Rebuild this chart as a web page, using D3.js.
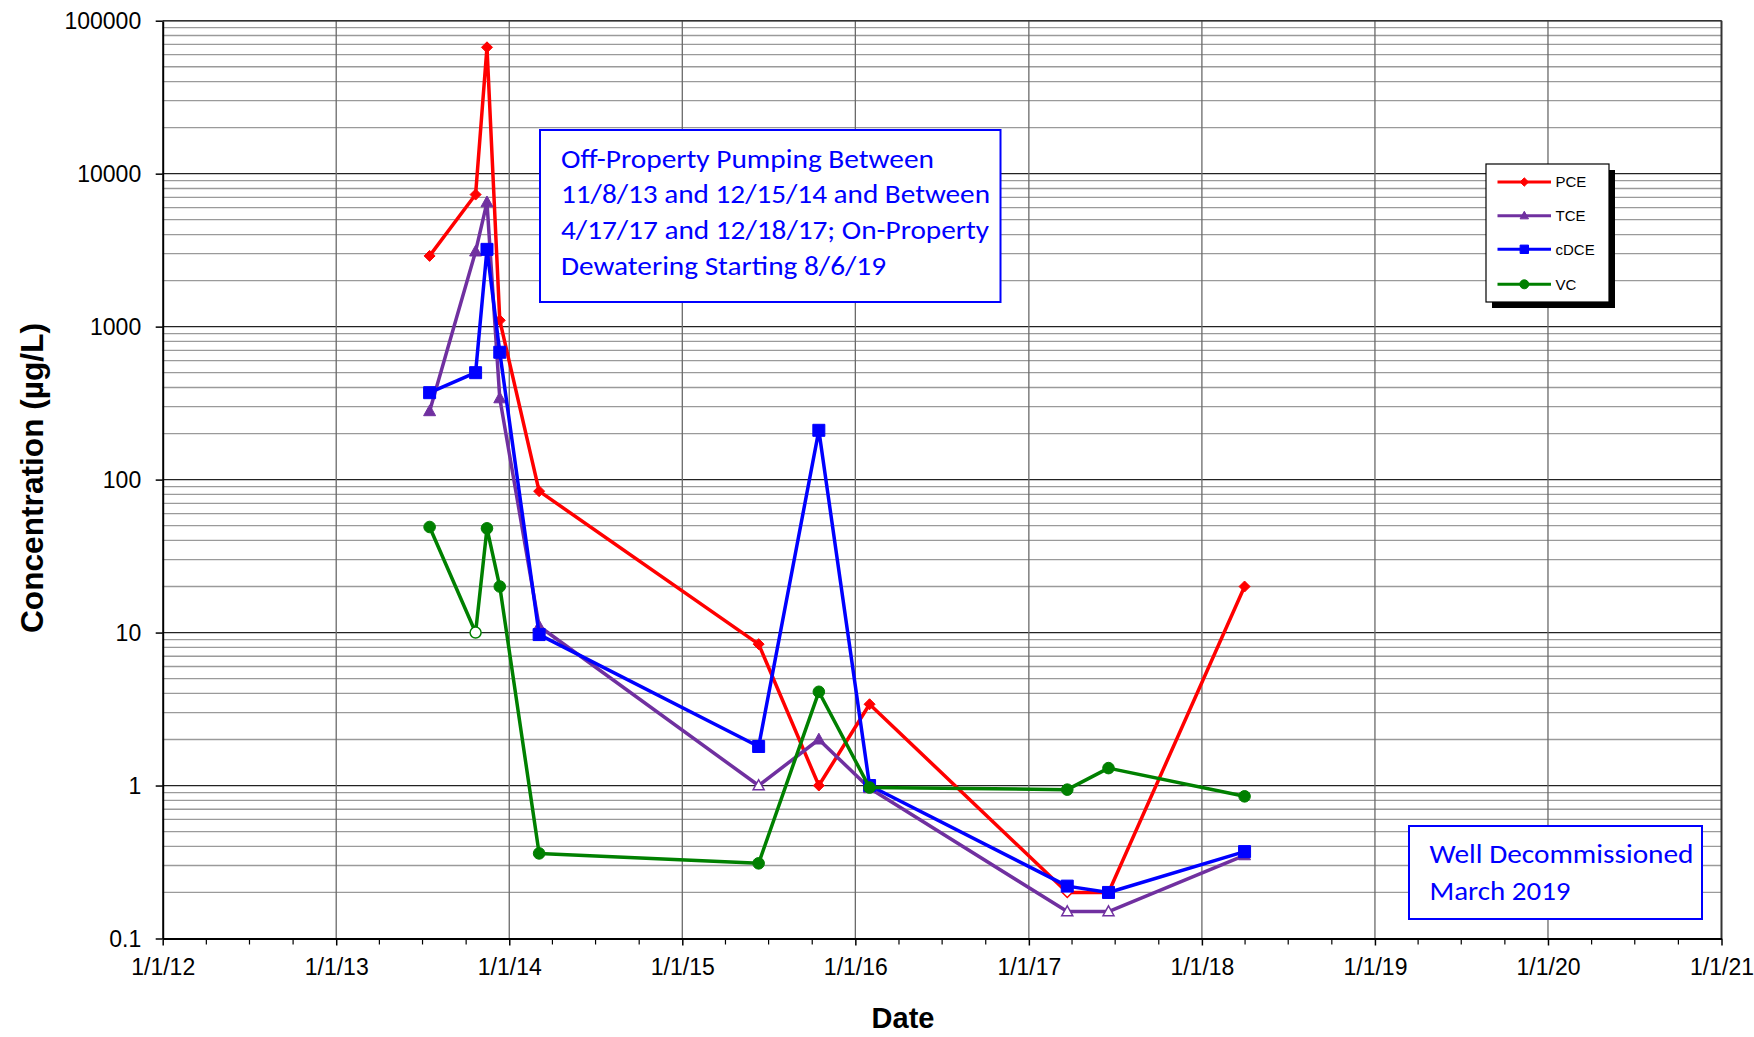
<!DOCTYPE html>
<html>
<head>
<meta charset="utf-8">
<script src="https://cdn.jsdelivr.net/npm/d3@7"></script>
<style>
  html, body { margin: 0; padding: 0; background: #fff; }
  svg { display: block; }
  text { font-family: "Liberation Sans", Arial, sans-serif; }
</style>
</head>
<body>
<svg id="chart" width="1754" height="1037"></svg>
<script>
// ---------------- DATA ----------------
const sampleDates = ["2013-07-17", "2013-10-22", "2013-11-15", "2013-12-12", "2014-03-05",
                     "2015-06-11", "2015-10-16", "2016-01-31", "2017-03-23", "2017-06-18", "2018-04-01"];
const pceValues  = [2900, 7300, 67000, 1100, 84, 8.4, 1.0, 3.4, 0.2, 0.2, 20];
const tceValues  = [280, 3100, 6500, 340, 11, 1.0, 2.0, 0.96, 0.15, 0.15, 0.35];
const cdceValues = [370, 500, 3200, 680, 9.7, 1.8, 210, 1.0, 0.22, 0.2, 0.37];
const vcValues   = [49, 10, 48, 20, 0.36, 0.31, 4.1, 0.97, 0.94, 1.3, 0.85];
// non-detect flags (hollow markers)
const pceNonDetect  = [0,0,0,0,0,0,0,0,1,1,0];
const tceNonDetect  = [0,0,0,0,0,1,0,0,1,1,0];
const cdceNonDetect = [0,0,0,0,0,0,0,0,0,0,0];
const vcNonDetect   = [0,1,0,0,0,0,0,0,0,0,0];

const seriesNames  = ["PCE", "TCE", "cDCE", "VC"];
const seriesColors = ["#FF0000", "#7030A0", "#0000FF", "#008000"];
const seriesShapes = ["diamond", "triangle", "square", "circle"];

const yTickValues = [0.1, 1, 10, 100, 1000, 10000, 100000];
const yTickLabels = ["0.1", "1", "10", "100", "1000", "10000", "100000"];
const xTickYears  = [2012, 2013, 2014, 2015, 2016, 2017, 2018, 2019, 2020, 2021];
const xTickLabels = ["1/1/12", "1/1/13", "1/1/14", "1/1/15", "1/1/16", "1/1/17", "1/1/18", "1/1/19", "1/1/20", "1/1/21"];

const note1Lines = ["Off-Property Pumping Between", "11/8/13 and 12/15/14 and Between",
                    "4/17/17 and 12/18/17; On-Property", "Dewatering Starting 8/6/19"];
const note2Lines = ["Well Decommissioned", "March 2019"];

// ---------------- LAYOUT ----------------
const X0 = 162.7, X1 = 1721.5, Y0 = 20.7, Y1 = 938.5;
const svg = d3.select("#chart");
const parse = d3.timeParse("%Y-%m-%d");
const dates = sampleDates.map(parse);

const x = d3.scaleTime().domain([new Date(2012, 0, 1), new Date(2021, 0, 1)]).range([X0, X1]);
const y = d3.scaleLog().domain([0.1, 100000]).range([Y1, Y0]);

// ---------------- GRID ----------------
const grid = svg.append("g");
const minorVals = [];
for (let d = 0.1; d < 100000; d *= 10) for (let k = 2; k <= 9; k++) minorVals.push(+(d * k).toPrecision(3));
grid.selectAll("line.minor").data(minorVals).enter().append("line")
  .attr("x1", X0).attr("x2", X1)
  .attr("y1", d => y(d)).attr("y2", d => y(d))
  .attr("stroke", "#9a9a9a").attr("stroke-width", 1.3);
grid.selectAll("line.major").data(yTickValues.slice(1)).enter().append("line")
  .attr("x1", X0).attr("x2", X1)
  .attr("y1", d => y(d)).attr("y2", d => y(d))
  .attr("stroke", "#222").attr("stroke-width", 1.3);
grid.selectAll("line.vert").data(xTickYears.slice(1)).enter().append("line")
  .attr("x1", d => x(new Date(d, 0, 1))).attr("x2", d => x(new Date(d, 0, 1)))
  .attr("y1", Y0).attr("y2", Y1)
  .attr("stroke", d => d === 2021 ? "#333" : "#6a6a6a").attr("stroke-width", d => d === 2021 ? 2 : 1.3);

// ---------------- AXES ----------------
const quarters = [];
for (let yr = 2012; yr < 2021; yr++) for (let m = 3; m < 12; m += 3) quarters.push(new Date(yr, m, 1));
const xMinor = svg.append("g").attr("transform", `translate(0,${Y1})`)
  .call(d3.axisBottom(x).tickValues(quarters).tickSize(6).tickFormat(""));
xMinor.select(".domain").remove();
xMinor.selectAll("line").attr("stroke", "#000").attr("stroke-width", 1.2);

const xMajor = svg.append("g").attr("transform", `translate(0,${Y1})`)
  .call(d3.axisBottom(x).tickValues(xTickYears.map(v => new Date(v, 0, 1)))
    .tickSize(7).tickSizeOuter(0).tickFormat((d, i) => xTickLabels[i]));
xMajor.select(".domain").attr("stroke", "#000").attr("stroke-width", 2);
xMajor.selectAll(".tick line").attr("stroke", "#000").attr("stroke-width", 1.5);
xMajor.selectAll("text").attr("y", 36.5).attr("dy", 0)
  .style("font-size", "23px").attr("fill", "#000")
  .style("font-family", "'Liberation Sans', Arial, sans-serif");

const yAxis = svg.append("g").attr("transform", `translate(${X0},0)`)
  .call(d3.axisLeft(y).tickValues(yTickValues).tickSize(7).tickSizeOuter(0)
    .tickFormat((d, i) => yTickLabels[i]));
yAxis.select(".domain").attr("stroke", "#000").attr("stroke-width", 2);
yAxis.selectAll(".tick line").attr("stroke", "#000").attr("stroke-width", 1.5);
yAxis.selectAll("text").attr("x", -21.5).attr("dy", "0.35em")
  .style("font-size", "23px").attr("fill", "#000")
  .style("font-family", "'Liberation Sans', Arial, sans-serif");

// top border
svg.append("line").attr("x1", X0).attr("x2", X1).attr("y1", Y0).attr("y2", Y0)
  .attr("stroke", "#333").attr("stroke-width", 1.5);

// titles
svg.append("text").attr("transform", "translate(43,478) rotate(-90)")
  .attr("text-anchor", "middle").style("font-size", "32px").style("font-weight", "bold")
  .attr("textLength", 310).attr("lengthAdjust", "spacingAndGlyphs")
  .text("Concentration (µg/L)");
svg.append("text").attr("x", 903).attr("y", 1028).attr("text-anchor", "middle")
  .style("font-size", "29px").style("font-weight", "bold").text("Date");

// ---------------- SERIES ----------------
const allValues = [pceValues, tceValues, cdceValues, vcValues];
const allND = [pceNonDetect, tceNonDetect, cdceNonDetect, vcNonDetect];

function markerPath(shape, size) {
  const s = size;
  if (shape === "diamond") return `M0,${-s}L${s},0L0,${s}L${-s},0Z`;
  if (shape === "triangle") return `M0,${-s * 1.05}L${s},${s * 0.75}L${-s},${s * 0.75}Z`;
  if (shape === "square") return `M${-s},${-s}H${s}V${s}H${-s}Z`;
  return null;
}
function drawMarker(g, shape, color, cx, cy, size, hollow) {
  const fill = hollow ? "#fff" : color;
  if (shape === "circle") {
    g.append("circle").attr("cx", cx).attr("cy", cy).attr("r", size)
      .attr("fill", fill).attr("stroke", color).attr("stroke-width", hollow ? 1.5 : 1);
  } else {
    g.append("path").attr("transform", `translate(${cx},${cy})`)
      .attr("d", markerPath(shape, size))
      .attr("fill", fill).attr("stroke", color).attr("stroke-width", hollow ? 1.5 : 1);
  }
}
const markerSizes = { diamond: 5.5, triangle: 6, square: 6, circle: 5.8 };
const hollowSizes = { diamond: 5, triangle: 5.5, square: 5.5, circle: 5.5 };

const line = d3.line().x(d => x(d.date)).y(d => y(d.v));
allValues.forEach((vals, si) => {
  const g = svg.append("g");
  const pts = vals.map((v, i) => ({ date: dates[i], v, nd: allND[si][i] }));
  g.append("path").datum(pts).attr("d", line)
    .attr("fill", "none").attr("stroke", seriesColors[si]).attr("stroke-width", 3.5)
    .attr("stroke-linejoin", "round");
  pts.forEach(p => {
    drawMarker(g, seriesShapes[si], seriesColors[si], x(p.date), y(p.v),
      p.nd ? hollowSizes[seriesShapes[si]] : markerSizes[seriesShapes[si]], !!p.nd);
  });
});

// ---------------- ANNOTATIONS ----------------
const note1 = svg.append("g");
note1.append("rect").attr("x", 540).attr("y", 130).attr("width", 460.5).attr("height", 172)
  .attr("fill", "#fff").attr("stroke", "#0000FF").attr("stroke-width", 2);
const note1Widths = [373, 429, 428, 325];
const note1Base = [167.7, 202.7, 239, 275];
note1Lines.forEach((t, i) => {
  note1.append("text").attr("x", 561).attr("y", note1Base[i])
    .style("font-family", "Carlito, Lato, 'Open Sans', sans-serif").style("font-size", "26.5px")
    .attr("fill", "#0000FF").attr("textLength", note1Widths[i]).attr("lengthAdjust", "spacingAndGlyphs")
    .text(t);
});

const note2 = svg.append("g");
note2.append("rect").attr("x", 1409).attr("y", 826).attr("width", 293).attr("height", 93)
  .attr("fill", "#fff").attr("stroke", "#0000FF").attr("stroke-width", 2);
const note2Widths = [264, 141];
const note2Base = [863.3, 900];
note2Lines.forEach((t, i) => {
  note2.append("text").attr("x", 1429.5).attr("y", note2Base[i])
    .style("font-family", "Carlito, Lato, 'Open Sans', sans-serif").style("font-size", "26.5px")
    .attr("fill", "#0000FF").attr("textLength", note2Widths[i]).attr("lengthAdjust", "spacingAndGlyphs")
    .text(t);
});

// ---------------- LEGEND ----------------
const legend = svg.append("g");
legend.append("rect").attr("x", 1492).attr("y", 170).attr("width", 123).attr("height", 138).attr("fill", "#000");
legend.append("rect").attr("x", 1486).attr("y", 164).attr("width", 123).attr("height", 138)
  .attr("fill", "#fff").attr("stroke", "#000").attr("stroke-width", 1.2);
const legendY = [182, 215.7, 249.3, 284.3];
seriesNames.forEach((name, i) => {
  legend.append("line").attr("x1", 1497.5).attr("x2", 1551).attr("y1", legendY[i]).attr("y2", legendY[i])
    .attr("stroke", seriesColors[i]).attr("stroke-width", 3);
  drawMarker(legend, seriesShapes[i], seriesColors[i], 1524.3, legendY[i],
    seriesShapes[i] === "circle" ? 4.5 : 4.2, false);
  legend.append("text").attr("x", 1555.5).attr("y", legendY[i]).attr("dy", "0.36em")
    .style("font-size", "15px").attr("fill", "#000").text(name);
});
</script>
</body>
</html>
